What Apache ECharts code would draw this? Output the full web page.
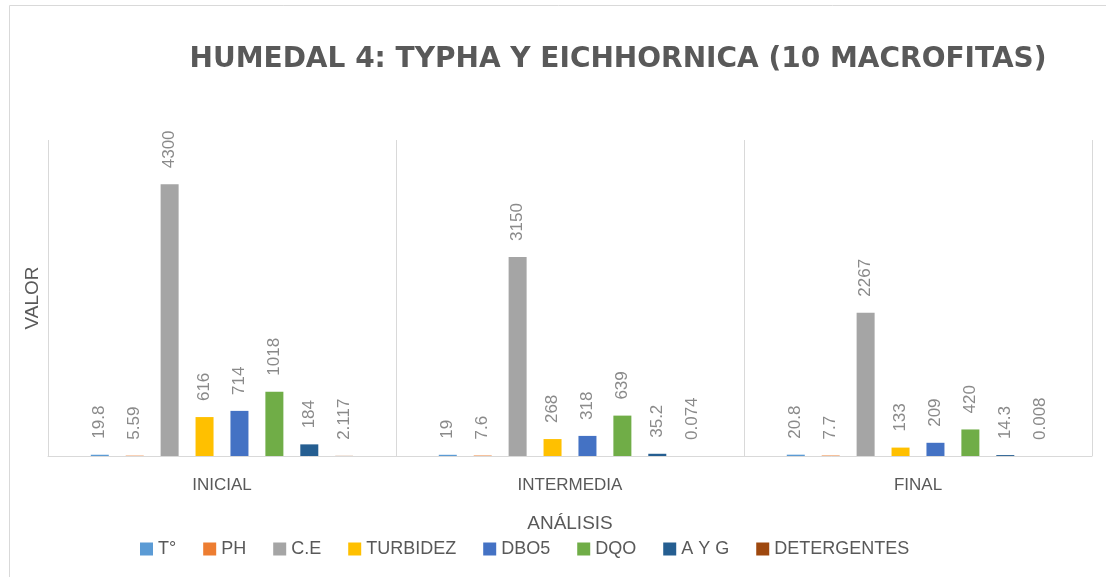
<!DOCTYPE html>
<html>
<head>
<meta charset="utf-8">
<script src="https://cdn.jsdelivr.net/npm/echarts@6/dist/echarts.min.js"></script>
<style>
html, body { margin: 0; padding: 0; background: #fff; }
#chart { width: 1106px; height: 577px; }
</style>
</head>
<body>
<div id="chart"></div>
<script>
// categorias y series
const categories = ["INICIAL", "INTERMEDIA", "FINAL"];
const seriesNames = ["T°", "PH", "C.E", "TURBIDEZ", "DBO5", "DQO", "A Y G", "DETERGENTES"];
const temperatura = [19.8, 19, 20.8];
const ph = [5.59, 7.6, 7.7];
const ce = [4300, 3150, 2267];
const turbidez = [616, 268, 133];
const dbo5 = [714, 318, 209];
const dqo = [1018, 639, 420];
const ayg = [184, 35.2, 14.3];
const detergentes = [2.117, 0.074, 0.008];
const colors = ["#5b9bd5", "#ed7d31", "#a5a5a5", "#ffc000", "#4472c4", "#70ad47", "#255e91", "#9e480e"];

const values = [temperatura, ph, ce, turbidez, dbo5, dqo, ayg, detergentes];

const chart = echarts.init(document.getElementById("chart"));

let option = {
    animation: false,
    color: colors,
    title: {
        text: "HUMEDAL 4: TYPHA Y EICHHORNICA (10 MACROFITAS)",
        left: 613,
        textAlign: "center",
        top: 41,
        textStyle: {
            color: "#595959",
            fontFamily: "DejaVu Sans",
            fontWeight: "bold",
            fontSize: 28,
        },
    },
    graphic: [{
        type: "rect",
        shape: { x: 9.5, y: 5.5, width: 1200, height: 700 },
        style: { fill: "none", stroke: "#d9d9d9", lineWidth: 1 },
        silent: true,
    }],
    legend: {
        bottom: 14,
        left: 135,
        itemWidth: 13,
        itemHeight: 13,
        itemGap: 27,
        icon: "rect",
        textStyle: {
            color: "#595959",
            fontSize: 18,
            fontFamily: "Liberation Sans",
        },
        data: seriesNames,
    },
    grid: {
        left: 48,
        right: 14,
        top: 140,
        bottom: 121,
    },
    xAxis: {
        type: "category",
        data: categories,
        name: "ANÁLISIS",
        nameLocation: "middle",
        nameGap: 58,
        nameTextStyle: {
            color: "#595959",
            fontSize: 19,
            fontFamily: "Liberation Sans",
        },
        axisLine: { lineStyle: { color: "#d9d9d9", width: 1 } },
        axisTick: { show: false },
        axisLabel: {
            color: "#595959",
            fontSize: 17,
            margin: 21,
            fontFamily: "Liberation Sans",
        },
        splitLine: { show: true, lineStyle: { color: "#d9d9d9" } },
    },
    yAxis: {
        type: "value",
        min: 0,
        max: 5000,
        name: "VALOR",
        nameLocation: "middle",
        nameGap: 6,
        nameRotate: 90,
        nameTextStyle: {
            color: "#595959",
            fontSize: 19,
            fontFamily: "Liberation Sans",
        },
        axisLine: { show: false },
        axisTick: { show: false },
        axisLabel: { show: false },
        splitLine: { show: false },
    },
    series: seriesNames.map((name, i) => ({
        name: name,
        type: "bar",
        data: values[i],
        barWidth: 18,
        barGap: "94%",
        itemStyle: { color: colors[i] },
        label: {
            show: true,
            position: "top",
            rotate: 90,
            align: "left",
            verticalAlign: "middle",
            distance: 16,
            color: "#8a8a8a",
            fontSize: 17,
            fontFamily: "Liberation Sans",
        },
    })),
};
chart.setOption(option);
</script>
</body>
</html>
